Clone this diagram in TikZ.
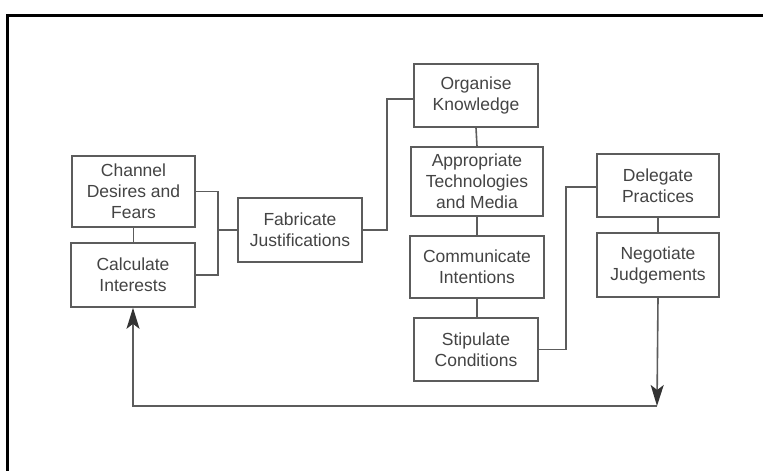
\documentclass[tikz,border=0pt]{standalone}
\usepackage{fontspec}
\setmainfont{Liberation Sans}
\usetikzlibrary{arrows.meta}
\definecolor{ln}{HTML}{5C5C5C}
\definecolor{tx}{HTML}{444444}
\definecolor{ah}{HTML}{333333}
\begin{document}
\begin{tikzpicture}[x=1pt,y=-1pt,
  box/.style={draw=ln,line width=1.6pt,rectangle,inner sep=0pt,align=center,
    text=tx,font=\fontsize{17.5}{21}\selectfont},
  conn/.style={draw=ln,line width=1.6pt},
  tip/.style={-{Stealth[length=21pt,width=13pt,inset=5pt,color=ah]}}]
\useasboundingbox (0,0) rectangle (763,471);
\fill[white] (0,0) rectangle (763,471);
\draw[line width=2.8pt] (7.8,471) -- (7.8,15.3) -- (763,15.3);

\node[box,minimum width=123pt,minimum height=71pt] (ch) at (133.5,191.5) {Channel\\Desires and\\Fears};
\node[box,minimum width=124pt,minimum height=64pt] (ca) at (133,275) {Calculate\\Interests};
\node[box,minimum width=124pt,minimum height=64pt] (fa) at (300,230) {Fabricate\\Justifications};
\node[box,minimum width=124pt,minimum height=63pt] (org) at (476,95.5) {Organise\\Knowledge};
\node[box,minimum width=132pt,minimum height=69pt] (app) at (477,181.5) {Appropriate\\Technologies\\and Media};
\node[box,minimum width=134pt,minimum height=62pt] (com) at (477,267) {Communicate\\Intentions};
\node[box,minimum width=124pt,minimum height=63pt] (sti) at (476,349.5) {Stipulate\\Conditions};
\node[box,minimum width=122pt,minimum height=63pt] (del) at (658,185.5) {Delegate\\Practices};
\node[box,minimum width=122pt,minimum height=64pt] (neg) at (658,265) {Negotiate\\Judgements};

\coordinate (j) at (218,230);
\coordinate (k) at (387,99);
\coordinate (m) at (566,187);
\coordinate (b) at (657,406);

\draw[conn] (ch.south) -- (ch.south |- ca.north);
\draw[conn] (ch.east) -| (j) |- (ca.east);
\draw[conn] (j) -- (fa.west);
\draw[conn] (fa.east) -| (k) -- (k -| org.west);
\draw[conn] (org.south) -- (app.north);
\draw[conn] (app.south) -- (com.north);
\draw[conn] (com.south) -- (com.south |- sti.north);
\draw[conn] (sti.east) -| (m) -- (m -| del.west);
\draw[conn] (del.south) -- (neg.north);
\draw[conn,tip] (neg.south) -- (b);
\draw[conn,tip] (b) -- (b -| ca.south) -- (ca.south);
\end{tikzpicture}
\end{document}
